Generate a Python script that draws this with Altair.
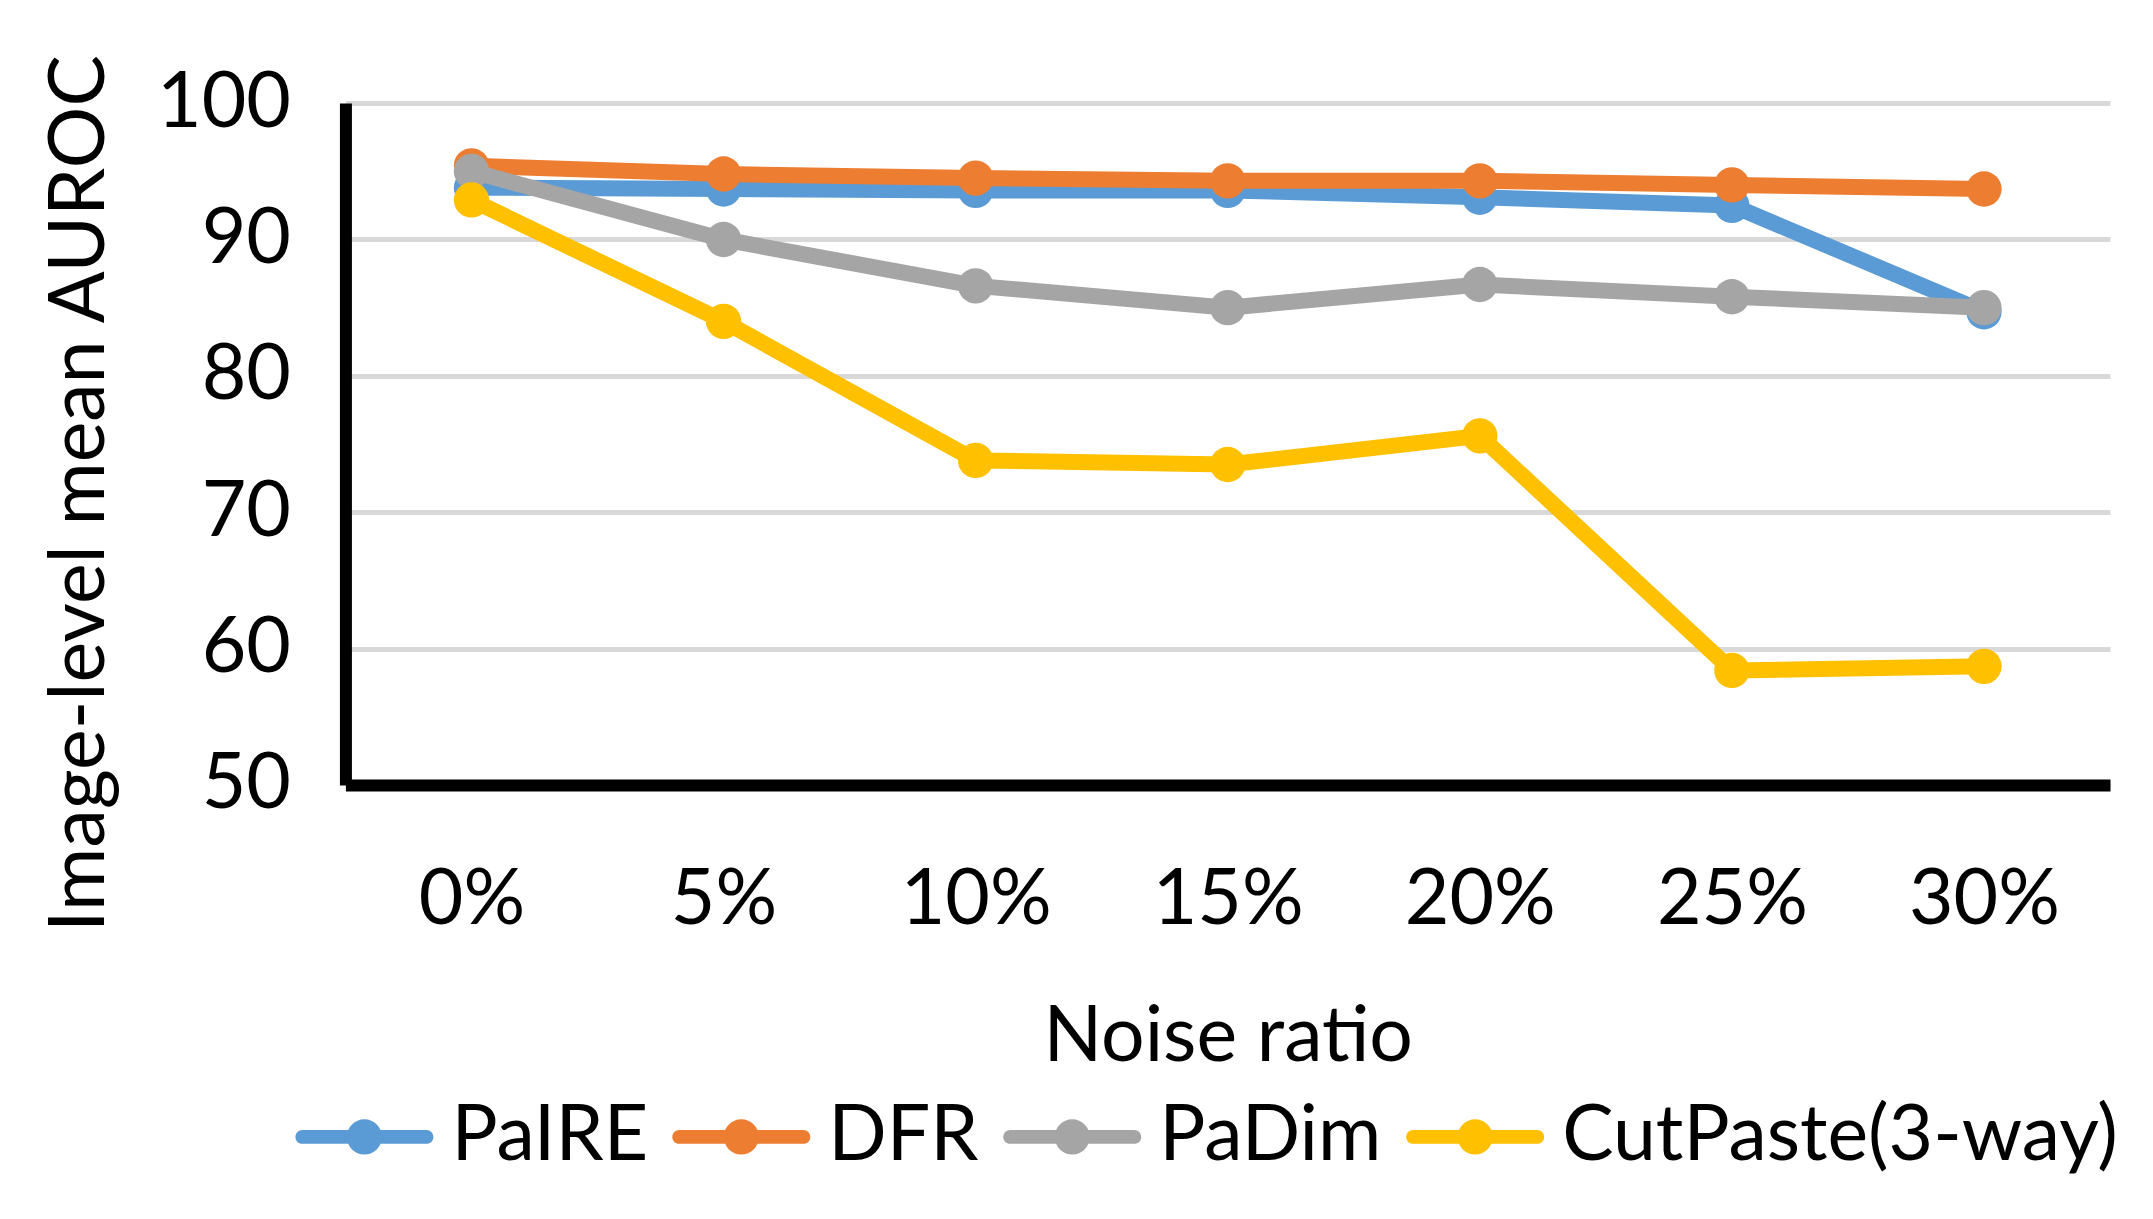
import altair as alt
import pandas as pd

ratios = ["0%", "5%", "10%", "15%", "20%", "25%", "30%"]
series = ["PaIRE", "DFR", "PaDim", "CutPaste(3-way)"]
colors = ["#5B9BD5", "#ED7D31", "#A5A5A5", "#FFC000"]

paire = [93.8, 93.7, 93.6, 93.6, 93.1, 92.5, 84.7]
dfr = [95.4, 94.8, 94.5, 94.3, 94.3, 94.0, 93.7]
padim = [95.0, 90.0, 86.6, 85.0, 86.7, 85.8, 85.0]
cutpaste = [92.9, 84.0, 73.8, 73.5, 75.6, 58.4, 58.7]

values = [paire, dfr, padim, cutpaste]
rows = []
for name, vals in zip(series, values):
    for r, v in zip(ratios, vals):
        rows.append({"ratio": r, "method": name, "auroc": v})
df = pd.DataFrame(rows)

FONT = "Lato"
FS = 77

sym_path = ("M-0.9,-0.1 L0.9,-0.1 A0.1,0.1 0 0,1 0.9,0.1 L-0.9,0.1 "
            "A0.1,0.1 0 0,1 -0.9,-0.1 Z "
            "M0.254,0 A0.254,0.254 0 1,1 -0.254,0 A0.254,0.254 0 1,1 0.254,0 Z")

x_enc = alt.X(
    "ratio:N",
    sort=ratios,
    scale=alt.Scale(type="point", padding=0.5),
    axis=alt.Axis(
        title="Noise ratio",
        labelAngle=0,
        labelPadding=78,
        titleBaseline="alphabetic",
        titleY=276,
        grid=False,
    ),
)
y_enc = alt.Y(
    "auroc:Q",
    scale=alt.Scale(domain=[50, 100], nice=False, zero=False),
    axis=alt.Axis(
        title="Image-level mean AUROC",
        values=[50, 60, 70, 80, 90, 100],
        labelPadding=55,
        titleAngle=270,
        titleAlign="center",
        titleBaseline="alphabetic",
        titleX=-242,
        titleY=390,
        grid=True,
        gridColor="#D9D9D9",
        gridWidth=5,
    ),
)

legend = alt.Legend(
    title=None,
    orient="none",
    direction="horizontal",
    legendX=-50,
    legendY=965,
    symbolType=sym_path,
    symbolSize=19044,
    symbolStrokeWidth=0,
    symbolOpacity=1,
    labelFont=FONT,
    labelFontSize=FS,
    labelColor="#000000",
    labelLimit=1000,
    labelOffset=18,
    columnPadding=24,
    columns=4,
    padding=0,
)

color_enc = alt.Color("method:N", scale=alt.Scale(domain=series, range=colors), sort=series, legend=legend)

layers = []
for name in series:
    base = alt.Chart(df).transform_filter(alt.datum.method == name)
    line = base.mark_line(strokeWidth=16, strokeCap="round", strokeJoin="round").encode(
        x=x_enc, y=y_enc, color=color_enc,
    )
    pts = base.mark_point(filled=True, size=1250, opacity=1, shape="circle").encode(
        x=x_enc, y=y_enc, color=color_enc,
    )
    layers += [line, pts]

chart = alt.layer(*layers).properties(
    width=1765,
    height=682,
    autosize=alt.AutoSizeParams(type="none"),
    padding={"left": 337.5, "top": 95, "right": 35, "bottom": 420},
).configure_view(
    strokeWidth=0
).configure_axis(
    labelFont=FONT,
    labelFontSize=FS,
    labelColor="#000000",
    titleFont=FONT,
    titleFontSize=FS,
    titleFontWeight="normal",
    titleColor="#000000",
    titleLimit=3000,
    labelLimit=1000,
    domainColor="#000000",
    domainWidth=12,
    ticks=False,
    tickSize=0,
)

chart.save("out.html", embed_options={"renderer": "svg", "actions": False})
